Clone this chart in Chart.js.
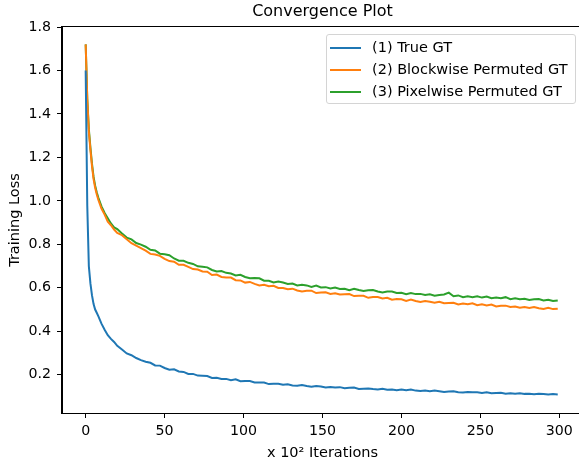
<!DOCTYPE html>
<html>
<head>
<meta charset="utf-8">
<script src="https://cdn.jsdelivr.net/npm/chart.js@4.4.1/dist/chart.umd.min.js"></script>
<style>
	html, body { margin: 0; padding: 0; background: #fff; overflow: hidden; }
	#wrap { position: relative; width: 600px; height: 465px; }
	#legend {
		position: absolute; left: 326px; top: 34px; width: 250px; height: 70px;
		border: 1px solid #d4d4d4; border-radius: 3px; background: rgba(255,255,255,0.8);
		font-family: "DejaVu Sans", sans-serif; font-size: 14.5px; color: #000;
		box-sizing: border-box; padding-top: 1px;
	}
	#legend .item { height: 22px; line-height: 22px; white-space: nowrap; }
	#legend .sw { display: inline-block; width: 31px; height: 2px; margin: 0 11px 0 3px; vertical-align: middle; }
</style>
</head>
<body>
<div id="wrap">
	<canvas id="mycanvas" width="600" height="465"></canvas>
	<div id="legend"></div>
</div>
<script>
// x in units of 10^2 iterations
var iters = [0,1,2,3,4,5,6,7,8,10,
	12,14,16,18,20,23,26,29,32,35,
	38,41,44,47,50,53,56,59,62,65,
	68,71,74,77,80,83,86,89,92,95,
	98,101,104,107,110,113,116,119,122,125,
	128,131,134,137,140,143,146,149,152,155,
	158,161,164,167,170,173,176,179,182,185,
	188,191,194,197,200,203,206,209,212,215,
	218,221,224,227,230,233,236,239,242,245,
	248,251,254,257,260,263,266,269,272,275,
	278,281,284,287,290,293,296,299];

var trueGT = [1.60,0.98,0.70,0.62,0.565,0.525,0.50,0.485,0.47,0.435,
	0.407,0.382,0.365,0.351,0.333,0.316,0.298,0.290,0.277,0.267,
	0.260,0.255,0.243,0.242,0.231,0.223,0.225,0.215,0.213,0.204,
	0.204,0.196,0.195,0.194,0.185,0.186,0.181,0.181,0.175,0.179,
	0.170,0.171,0.171,0.164,0.164,0.164,0.157,0.159,0.159,0.154,
	0.156,0.151,0.149,0.153,0.148,0.145,0.148,0.146,0.141,0.144,
	0.141,0.143,0.138,0.140,0.141,0.135,0.136,0.137,0.134,0.132,
	0.135,0.131,0.132,0.129,0.132,0.129,0.132,0.127,0.125,0.127,
	0.124,0.127,0.124,0.121,0.123,0.124,0.120,0.118,0.121,0.119,
	0.119,0.116,0.119,0.115,0.116,0.117,0.113,0.115,0.113,0.115,
	0.112,0.113,0.110,0.113,0.111,0.109,0.111,0.109];

var blockwise = [1.72,1.47,1.32,1.235,1.16,1.10,1.06,1.03,1.005,0.965,
	0.937,0.904,0.888,0.868,0.853,0.842,0.823,0.805,0.794,0.783,
	0.771,0.756,0.753,0.747,0.733,0.723,0.720,0.706,0.706,0.696,
	0.686,0.684,0.675,0.674,0.659,0.661,0.650,0.648,0.647,0.635,
	0.634,0.624,0.627,0.618,0.611,0.614,0.607,0.609,0.599,0.599,
	0.593,0.596,0.588,0.583,0.586,0.587,0.576,0.578,0.579,0.572,
	0.575,0.569,0.570,0.571,0.562,0.563,0.563,0.554,0.558,0.558,
	0.551,0.554,0.545,0.548,0.547,0.540,0.546,0.539,0.535,0.539,
	0.536,0.531,0.536,0.529,0.530,0.531,0.523,0.528,0.524,0.529,
	0.520,0.524,0.519,0.523,0.514,0.517,0.518,0.512,0.514,0.508,
	0.512,0.507,0.512,0.506,0.503,0.508,0.502,0.504];

var pixelwise = [1.72,1.47,1.33,1.245,1.17,1.11,1.07,1.04,1.015,0.975,
	0.944,0.920,0.896,0.878,0.870,0.850,0.831,0.823,0.806,0.799,
	0.789,0.775,0.772,0.757,0.754,0.750,0.735,0.725,0.724,0.715,
	0.710,0.699,0.697,0.694,0.682,0.675,0.677,0.669,0.666,0.657,
	0.660,0.650,0.644,0.645,0.644,0.633,0.632,0.625,0.629,0.624,
	0.618,0.620,0.611,0.614,0.611,0.604,0.610,0.602,0.603,0.597,
	0.601,0.595,0.596,0.589,0.596,0.590,0.585,0.589,0.590,0.583,
	0.579,0.583,0.583,0.576,0.577,0.571,0.576,0.571,0.572,0.567,
	0.570,0.564,0.567,0.569,0.578,0.561,0.565,0.557,0.561,0.557,
	0.561,0.555,0.560,0.552,0.555,0.552,0.557,0.548,0.552,0.547,
	0.550,0.544,0.547,0.548,0.542,0.545,0.539,0.542];

var seriesLabels = ["(1) True GT", "(2) Blockwise Permuted GT", "(3) Pixelwise Permuted GT"];
var seriesColors = ["#1f77b4", "#ff7f0e", "#2ca02c"];
var xTicks = [0, 50, 100, 150, 200, 250, 300];
var yTicks = [0.2, 0.4, 0.6, 0.8, 1.0, 1.2, 1.4, 1.6, 1.8];

function toPoints(vals) {
	var pts = [];
	for (var i in iters) {
		pts.push({x: iters[i], y: vals[i]});
	}
	return pts;
}

var allSeries = [trueGT, blockwise, pixelwise];
var datasets = [];
for (var s = 0; s < allSeries.length; s++) {
	datasets.push({
		label: seriesLabels[s],
		data: toPoints(allSeries[s]),
		borderColor: seriesColors[s],
		backgroundColor: seriesColors[s],
		borderWidth: 2,
		pointRadius: 0,
		tension: 0,
		fill: false
	});
}

// legend box (drawn inside the axes, upper right)
var legendHtml = "";
for (var k = 0; k < seriesLabels.length; k++) {
	legendHtml += '<div class="item"><span class="sw" style="background:' + seriesColors[k] + '"></span>' + seriesLabels[k] + '</div>';
}
document.getElementById("legend").innerHTML = legendHtml;

var tickFont = { family: "'DejaVu Sans', sans-serif", size: 14.2 };
var labelFont = { family: "'DejaVu Sans', sans-serif", size: 14.5 };

// top + right spine
var frame = {
	id: "frame",
	afterDatasetsDraw: function(chart) {
		var a = chart.chartArea, c = chart.ctx;
		c.save();
		c.strokeStyle = "#000";
		c.lineWidth = 1;
		c.strokeRect(Math.round(a.left) - 0.5, Math.round(a.top) - 0.5, a.right - a.left + 1, a.bottom - a.top + 1);
		c.restore();
	}
};

Chart.defaults.color = "#000";

var ctx = document.getElementById("mycanvas");
var LineGraph = new Chart(ctx, {
	type: "line",
	data: { datasets: datasets },
	plugins: [frame],
	options: {
		responsive: false,
		animation: false,
		layout: { padding: { left: 0, top: 0, right: 17, bottom: 0 } },
		plugins: {
			legend: { display: false },
			tooltip: { enabled: false },
			title: {
				display: true,
				text: "Convergence Plot",
				fullSize: false,
				color: "#000",
				font: { family: "'DejaVu Sans', sans-serif", size: 16, weight: "normal" },
				padding: { top: 2, bottom: 5.8 }
			}
		},
		scales: {
			x: {
				type: "linear",
				min: -15,
				max: 315,
				afterBuildTicks: function(scale) {
					scale.ticks = xTicks.map(function(v) { return {value: v}; });
				},
				afterFit: function(scale) { scale.height = 52; },
				ticks: {
					font: tickFont, color: "#000", padding: 5, maxRotation: 0,
					callback: function(v) { return String(v); }
				},
				grid: { drawOnChartArea: false, drawTicks: true, tickLength: 5, color: "#000", lineWidth: 1 },
				border: { display: true, color: "#000", width: 1 },
				title: {
					display: true,
					text: "x 10\u00B2 Iterations",
					font: labelFont,
					color: "#000",
					padding: { top: 0, bottom: 3 }
				}
			},
			y: {
				type: "linear",
				min: 0.024,
				max: 1.8,
				afterBuildTicks: function(scale) {
					scale.ticks = yTicks.map(function(v) { return {value: v}; });
				},
				afterFit: function(scale) { scale.width = 62; },
				ticks: {
					font: tickFont, color: "#000", padding: 6,
					callback: function(v) { return v.toFixed(1); }
				},
				grid: { drawOnChartArea: false, drawTicks: true, tickLength: 5, color: "#000", lineWidth: 1 },
				border: { display: true, color: "#000", width: 1 },
				title: {
					display: true,
					text: "Training Loss",
					font: labelFont,
					color: "#000",
					padding: { top: 7, bottom: 0 }
				}
			}
		}
	}
});
</script>
</body>
</html>
